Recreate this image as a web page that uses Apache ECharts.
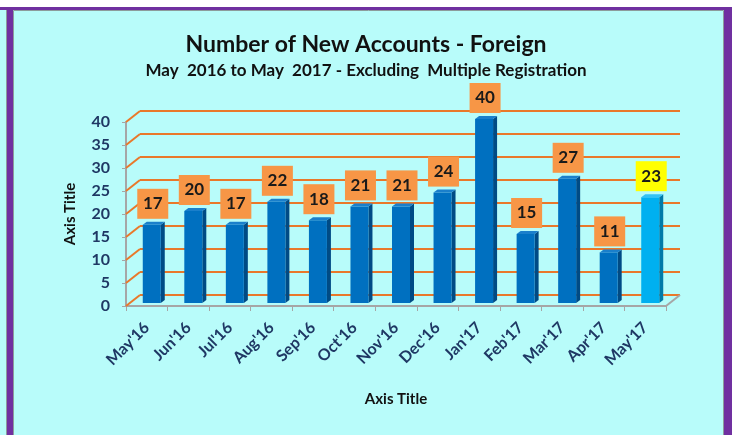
<!DOCTYPE html>
<html>
<head>
<meta charset="utf-8">
<script src="https://cdn.jsdelivr.net/npm/echarts/dist/echarts.min.js"></script>
<style>
  html, body { margin: 0; padding: 0; background: #fff; }
  #chart { width: 732px; height: 435px; }
</style>
</head>
<body>
<div id="chart"></div>
<script>
  var months = ["May'16", "Jun'16", "Jul'16", "Aug'16", "Sep'16", "Oct'16", "Nov'16",
                "Dec'16", "Jan'17", "Feb'17", "Mar'17", "Apr'17", "May'17"];
  var accounts = [17, 20, 17, 22, 18, 21, 21, 24, 40, 15, 27, 11, 23];
  var yTicks = [0, 5, 10, 15, 20, 25, 30, 35, 40];
  var highlightIndex = 12;

  var fontFam = 'Lato, "Open Sans", sans-serif';
  var orange = '#e9782a';
  var axisGray = '#a6a6a6';
  var navy = '#1f3864';

  // front face + side + top, plus the value box above it
  function renderBar(params, api) {
    var i = api.value(0), v = api.value(1);
    var top = api.coord([i, v]);
    var base = api.coord([i, 0]);
    var fx = top[0] - 4, fw = 18;
    var fy0 = top[1] - 3, fy1 = base[1] - 3;
    var dx = 4, dy = -3;
    var hi = i === highlightIndex;
    var front = hi ? '#00b0f0' : '#0070c0';
    var side = hi ? '#007aa8' : '#004b85';
    var cap = hi ? '#33c2f5' : '#1a7fcb';
    var cx = fx + fw / 2 + 1;
    var by = fy0 - 6;
    return {
      type: 'group',
      children: [
        {type: 'polygon', shape: {points: [[fx + fw, fy0], [fx + fw + dx, fy0 + dy], [fx + fw + dx, fy1 + dy], [fx + fw, fy1]]},
         style: {fill: side}},
        {type: 'rect', shape: {x: fx, y: fy0, width: fw, height: fy1 - fy0}, style: {fill: front}},
        {type: 'polygon', shape: {points: [[fx, fy0], [fx + dx, fy0 + dy], [fx + fw + dx, fy0 + dy], [fx + fw, fy0]]},
         style: {fill: cap}},
        {type: 'rect', shape: {x: cx - 15.5, y: by - 30, width: 31, height: 30},
         style: {fill: hi ? '#ffff00' : '#f79646'}},
        {type: 'text', x: cx, y: by - 15,
         style: {text: String(v), fill: '#1a1a1a', font: 'bold 17px ' + fontFam, align: 'center', verticalAlign: 'middle'}}
      ]
    };
  }

  // diagonal links from the front axis to the back wall
  function renderDiag(params, api) {
    var v = api.value(1);
    var band = api.size([1, 0])[0];
    var p = api.coord([0, v]);
    var left = p[0] - band / 2;
    var kids = [{
      type: 'line', shape: {x1: left - 14, y1: p[1] + 11, x2: left, y2: p[1]},
      style: {stroke: orange, lineWidth: 2}
    }];
    if (v === 0) {
      var r = api.coord([months.length - 1, 0]);
      var right = r[0] + band / 2;
      kids.push({
        type: 'line', shape: {x1: right - 14, y1: r[1] + 11, x2: right, y2: r[1]},
        style: {stroke: axisGray, lineWidth: 2}
      });
    }
    return {type: 'group', children: kids};
  }

  var chart = echarts.init(document.getElementById('chart'));
  chart.setOption({
    animation: false,
    backgroundColor: 'transparent',
    graphic: [
      {type: 'rect', z: -10, shape: {x: 0, y: 7, width: 732, height: 428}, style: {fill: '#b8fcfa'}},
      {type: 'rect', z: -9, shape: {x: 0, y: 7, width: 732, height: 3}, style: {fill: '#7030a0'}},
      {type: 'rect', z: -9, shape: {x: 7, y: 7, width: 6, height: 428}, style: {fill: '#7030a0'}},
      {type: 'rect', z: -9, shape: {x: 724, y: 7, width: 8, height: 428}, style: {fill: '#7030a0'}},
      {type: 'line', z: -9, shape: {x1: 13.5, y1: 10.5, x2: 723.5, y2: 10.5}, style: {stroke: '#8c9c9c', lineWidth: 1}},
      {type: 'line', z: -9, shape: {x1: 13.5, y1: 10.5, x2: 13.5, y2: 435}, style: {stroke: '#8c9c9c', lineWidth: 1}},
      {type: 'line', z: -9, shape: {x1: 723.5, y1: 10.5, x2: 723.5, y2: 435}, style: {stroke: '#8c9c9c', lineWidth: 1}},
      {type: 'line', z: -9, shape: {x1: 6.5, y1: 10, x2: 6.5, y2: 435}, style: {stroke: '#8c9c9c', lineWidth: 1}}
    ],
    title: {
      text: 'Number of New Accounts - Foreign',
      subtext: 'May  2016 to May  2017 - Excluding  Multiple Registration',
      left: 'center',
      top: 28,
      itemGap: 6,
      textStyle: {fontFamily: fontFam, fontWeight: 'bold', fontSize: 23, color: '#111'},
      subtextStyle: {fontFamily: fontFam, fontWeight: 'bold', fontSize: 17, color: '#111'}
    },
    grid: [
      {left: 126, width: 540, top: 122, height: 184},
      {left: 140, width: 540, top: 111, height: 184}
    ],
    xAxis: [{
      type: 'category', gridIndex: 0, data: months,
      axisLine: {lineStyle: {color: axisGray, width: 2}},
      axisTick: {show: true, interval: 0, length: 5, lineStyle: {color: axisGray, width: 1}},
      axisLabel: {rotate: 45, interval: 0, margin: 19, color: navy,
                  fontFamily: fontFam, fontWeight: 'bold', fontSize: 16},
      name: 'Axis Title', nameLocation: 'middle', nameGap: 86,
      nameTextStyle: {fontFamily: fontFam, fontWeight: 'bold', fontSize: 15, color: '#111'}
    }, {
      type: 'category', gridIndex: 1, data: months, show: false
    }],
    yAxis: [{
      type: 'value', gridIndex: 0, min: 0, max: 40, interval: 5,
      axisLine: {show: true, lineStyle: {color: axisGray, width: 2}},
      axisTick: {show: true, length: 4, lineStyle: {color: axisGray}},
      splitLine: {show: false},
      axisLabel: {margin: 16, color: navy, fontFamily: fontFam, fontWeight: 'bold', fontSize: 16},
      name: 'Axis Title', nameLocation: 'middle', nameRotate: 90, nameGap: 48,
      nameTextStyle: {fontFamily: fontFam, fontWeight: 'bold', fontSize: 15, color: '#111'}
    }, {
      type: 'value', gridIndex: 1, min: 0, max: 40, interval: 5,
      axisLine: {show: false}, axisTick: {show: false}, axisLabel: {show: false},
      splitLine: {show: true, lineStyle: {color: orange, width: 2}}
    }],
    series: [{
      type: 'custom', xAxisIndex: 1, yAxisIndex: 1, z: 1,
      renderItem: renderDiag,
      data: yTicks.map(function (v) { return [0, v]; })
    }, {
      type: 'custom', xAxisIndex: 0, yAxisIndex: 0, z: 5,
      renderItem: renderBar,
      data: accounts.map(function (v, i) { return [i, v]; })
    }]
  });
</script>
</body>
</html>
